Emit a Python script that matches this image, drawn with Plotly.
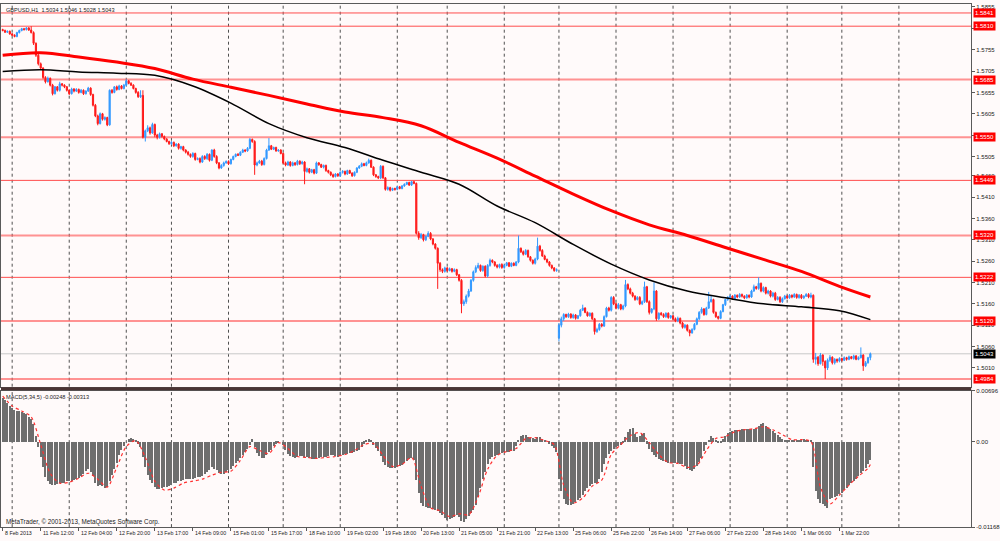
import plotly.graph_objects as go

# GBPUSD H1 candles, price in pips above 1.5000 (1 pip = 0.0001)
opens = [
    802, 800, 796, 798, 792, 789, 786, 795, 800, 804, 802, 806, 801, 795, 770, 742,
    722, 712, 690, 680, 688, 672, 652, 668, 660, 675, 672, 668, 660, 652, 663, 658,
    662, 655, 660, 652, 658, 665, 650, 625, 600, 582, 605, 592, 596, 579, 660, 655,
    668, 662, 670, 664, 672, 682, 676, 672, 664, 655, 645, 648, 550, 565, 572, 560,
    580, 555, 550, 558, 552, 546, 540, 535, 538, 530, 534, 524, 528, 520, 515, 510,
    505, 512, 498, 500, 492, 505, 500, 510, 496, 520, 505, 490, 478, 484, 490, 493,
    488, 498, 505, 510, 508, 515, 520, 518, 524, 545, 540, 485, 490, 494, 486, 500,
    520, 530, 522, 526, 518, 520, 512, 490, 485, 492, 484, 490, 486, 494, 488, 492,
    470, 476, 468, 474, 466, 490, 486, 480, 484, 472, 468, 462, 458, 464, 460, 468,
    470, 464, 472, 466, 460, 468, 478, 482, 488, 484, 490, 496, 480, 462, 458, 455,
    482, 455, 428, 432, 426, 430, 428, 434, 430, 436, 440, 444, 438, 446, 442, 325,
    315, 322, 310, 318, 325, 312, 300, 290, 255, 240, 236, 244, 238, 242, 236, 240,
    228, 215, 160, 165, 178, 190, 215, 235, 245, 250, 238, 248, 225, 250, 262, 258,
    250, 246, 252, 245, 250, 256, 248, 255, 250, 258, 290, 282, 276, 285, 270, 262,
    255, 265, 295, 285, 272, 264, 258, 250, 244, 238, 80, 110, 125, 135, 130, 136,
    128, 134, 126, 132, 145, 150, 140, 132, 138, 125, 95, 100, 112, 108, 130, 150,
    145, 175, 160, 150, 158, 148, 155, 205, 195, 185, 178, 170, 175, 160, 165, 200,
    165, 140, 148, 190, 125, 138, 135, 130, 138, 128, 132, 125, 120, 126, 115, 105,
    110, 98, 92, 100, 112, 125, 140, 148, 135, 150, 165, 170, 140, 130, 126, 142,
    158, 170, 175, 178, 172, 180, 176, 182, 178, 174, 180, 176, 190, 200, 196, 208,
    190, 198, 185, 190, 178, 185, 170, 175, 165, 172, 178, 174, 180, 176, 182, 175,
    180, 174, 178, 182, 176, 180, 30, 35, 20, 40, 25, 10, 28, 35, 22, 30,
    26, 32, 28, 34, 30, 36, 32, 38, 30, 34, 40, 15, 22, 34,
]
highs = [
    804, 802, 800, 800, 794, 791, 797, 802, 806, 806, 808, 808, 810, 798, 772, 745,
    725, 714, 693, 692, 690, 675, 670, 670, 680, 677, 674, 670, 662, 666, 665, 665,
    664, 663, 662, 660, 668, 667, 652, 628, 603, 608, 607, 599, 598, 662, 663, 670,
    671, 673, 672, 675, 686, 684, 679, 674, 666, 658, 660, 660, 568, 578, 575, 584,
    582, 558, 561, 560, 554, 548, 542, 541, 540, 536, 536, 530, 530, 522, 518, 512,
    515, 514, 503, 503, 508, 508, 513, 512, 522, 523, 508, 492, 487, 493, 496, 496,
    500, 507, 512, 513, 517, 523, 522, 527, 548, 547, 543, 493, 497, 497, 503, 523,
    548, 532, 528, 528, 522, 522, 514, 493, 495, 494, 493, 492, 497, 496, 495, 494,
    479, 478, 476, 476, 493, 492, 488, 486, 486, 474, 470, 465, 466, 466, 470, 473,
    472, 474, 474, 468, 470, 480, 485, 491, 490, 493, 500, 498, 482, 464, 460, 485,
    484, 457, 435, 434, 432, 432, 436, 436, 438, 442, 446, 446, 448, 448, 444, 330,
    326, 324, 320, 330, 328, 314, 302, 292, 258, 243, 247, 246, 245, 244, 243, 242,
    230, 218, 170, 182, 195, 218, 238, 250, 256, 252, 250, 250, 253, 266, 264, 260,
    253, 254, 255, 252, 258, 258, 257, 257, 260, 320, 292, 285, 288, 287, 272, 264,
    268, 315, 298, 288, 275, 266, 260, 252, 246, 243, 115, 130, 138, 137, 139, 138,
    137, 136, 134, 148, 158, 152, 142, 140, 140, 127, 104, 115, 115, 133, 153, 153,
    178, 178, 163, 162, 160, 158, 216, 208, 198, 188, 180, 178, 178, 168, 212, 202,
    168, 150, 210, 192, 140, 141, 138, 140, 140, 134, 134, 128, 130, 128, 118, 113,
    112, 100, 103, 115, 128, 143, 152, 150, 153, 188, 180, 172, 142, 132, 145, 160,
    172, 178, 181, 180, 183, 182, 185, 184, 180, 183, 182, 193, 205, 202, 222, 210,
    201, 200, 193, 192, 188, 188, 178, 178, 175, 181, 180, 183, 182, 185, 184, 183,
    183, 180, 185, 185, 186, 182, 45, 38, 45, 42, 28, 32, 40, 37, 33, 32,
    35, 34, 37, 36, 39, 38, 41, 40, 37, 58, 42, 26, 36, 46,
]
lows = [
    798, 794, 794, 790, 787, 784, 784, 793, 798, 800, 800, 799, 793, 766, 738, 718,
    708, 686, 676, 678, 669, 648, 650, 657, 657, 669, 665, 657, 649, 650, 655, 656,
    652, 653, 649, 650, 656, 647, 622, 597, 578, 580, 589, 589, 576, 577, 652, 653,
    659, 660, 662, 662, 670, 674, 670, 662, 652, 642, 642, 547, 540, 562, 556, 558,
    550, 545, 547, 549, 543, 538, 532, 532, 527, 528, 521, 521, 517, 512, 507, 502,
    502, 495, 496, 489, 490, 497, 497, 493, 494, 502, 487, 475, 476, 481, 488, 485,
    486, 496, 503, 506, 506, 513, 515, 516, 522, 537, 462, 482, 488, 483, 484, 498,
    518, 520, 520, 516, 516, 510, 487, 482, 483, 481, 482, 483, 484, 485, 486, 440,
    467, 465, 466, 463, 464, 483, 478, 477, 469, 465, 459, 455, 456, 457, 457, 465,
    461, 462, 464, 457, 458, 466, 476, 480, 482, 482, 488, 478, 459, 455, 452, 452,
    452, 425, 425, 423, 424, 425, 426, 428, 428, 434, 438, 436, 436, 440, 322, 310,
    312, 306, 307, 316, 309, 297, 287, 195, 235, 232, 233, 235, 236, 233, 234, 225,
    212, 138, 155, 160, 175, 188, 212, 232, 242, 235, 235, 222, 222, 247, 255, 247,
    243, 243, 242, 242, 248, 246, 246, 248, 248, 255, 279, 273, 274, 268, 259, 252,
    252, 262, 282, 270, 262, 255, 247, 241, 235, 235, 72, 105, 120, 127, 127, 125,
    125, 123, 124, 130, 143, 138, 130, 130, 122, 88, 92, 97, 105, 106, 128, 142,
    142, 157, 147, 147, 145, 145, 152, 192, 182, 175, 167, 168, 157, 157, 162, 162,
    135, 137, 145, 120, 122, 132, 127, 127, 125, 125, 122, 117, 117, 112, 102, 102,
    95, 84, 90, 98, 110, 122, 137, 132, 133, 148, 163, 137, 127, 123, 124, 140,
    155, 167, 172, 169, 170, 173, 174, 175, 171, 172, 173, 174, 188, 193, 193, 187,
    187, 182, 182, 175, 175, 167, 168, 162, 162, 170, 171, 172, 173, 174, 172, 172,
    171, 171, 176, 173, 173, 22, 18, 15, 18, 15, -16, 5, 24, 18, 18, 22,
    23, 25, 26, 27, 28, 30, 29, 28, 28, 32, 3, 12, 20, 28,
]
closes = [
    800, 796, 798, 792, 789, 786, 795, 800, 804, 802, 806, 801, 795, 770, 742, 722,
    712, 690, 680, 688, 672, 652, 668, 660, 675, 672, 668, 660, 652, 663, 658, 662,
    655, 660, 652, 658, 665, 650, 625, 600, 582, 605, 592, 596, 579, 660, 655, 668,
    662, 670, 664, 672, 682, 676, 672, 664, 655, 645, 648, 550, 565, 572, 560, 580,
    555, 550, 558, 552, 546, 540, 535, 538, 530, 534, 524, 528, 520, 515, 510, 505,
    512, 498, 500, 492, 505, 500, 510, 496, 520, 505, 490, 478, 484, 490, 493, 488,
    498, 505, 510, 508, 515, 520, 518, 524, 545, 540, 485, 490, 494, 486, 500, 520,
    530, 522, 526, 518, 520, 512, 490, 485, 492, 484, 490, 486, 494, 488, 492, 470,
    476, 468, 474, 466, 490, 486, 480, 484, 472, 468, 462, 458, 464, 460, 468, 470,
    464, 472, 466, 460, 468, 478, 482, 488, 484, 490, 496, 480, 462, 458, 455, 482,
    455, 428, 432, 426, 430, 428, 434, 430, 436, 440, 444, 438, 446, 442, 325, 315,
    322, 310, 318, 325, 312, 300, 290, 255, 240, 236, 244, 238, 242, 236, 240, 228,
    215, 160, 165, 178, 190, 215, 235, 245, 250, 238, 248, 225, 250, 262, 258, 250,
    246, 252, 245, 250, 256, 248, 255, 250, 258, 290, 282, 276, 285, 270, 262, 255,
    265, 295, 285, 272, 264, 258, 250, 244, 238, 240, 110, 125, 135, 130, 136, 128,
    134, 126, 132, 145, 150, 140, 132, 138, 125, 95, 100, 112, 108, 130, 150, 145,
    175, 160, 150, 158, 148, 155, 205, 195, 185, 178, 170, 175, 160, 165, 200, 165,
    140, 148, 190, 125, 138, 135, 130, 138, 128, 132, 125, 120, 126, 115, 105, 110,
    98, 92, 100, 112, 125, 140, 148, 135, 150, 165, 170, 140, 130, 126, 142, 158,
    170, 175, 178, 172, 180, 176, 182, 178, 174, 180, 176, 190, 200, 196, 208, 190,
    198, 185, 190, 178, 185, 170, 175, 165, 172, 178, 174, 180, 176, 182, 175, 180,
    174, 178, 182, 176, 180, 30, 35, 20, 40, 25, 10, 28, 35, 22, 30, 26,
    32, 28, 34, 30, 36, 32, 38, 30, 34, 40, 15, 22, 34, 43,
]

# moving averages, every 16 bars (pips above 1.5000)
ma_idx = [0, 16, 32, 48, 64, 80, 96, 112, 128, 144, 160, 176, 192, 208, 224,
          240, 256, 272, 288, 304, 320, 336, 352, 365]
ma_slow = [742, 748, 738, 726, 711, 686, 667, 648, 628, 609, 596, 577, 538, 501, 459,
           417, 378, 345, 320, 292, 264, 236, 201, 176]
ma_fast = [704, 708, 703, 700, 695, 670, 630, 582, 549, 526, 496, 468, 440, 389, 350,
           299, 253, 216, 190, 174, 160, 153, 144, 123]

# MACD(5,34,5) histogram in points (0.00001)
macd_hist = [
    594, 567, 527, 486, 459, 432, 419, 419, 405, 392, 378, 338, 311, 243, 81, -68,
    -203, -338, -473, -540, -581, -594, -594, -581, -567, -554, -554, -540, -540, -527, -513, -500,
    -486, -459, -432, -392, -365, -405, -459, -567, -608, -594, -608, -635, -621, -540, -446, -365,
    -284, -176, -108, -54, 0, 41, 54, 41, 14, -27, -68, -203, -338, -446, -513, -554,
    -621, -648, -648, -635, -621, -621, -608, -594, -567, -554, -540, -527, -513, -500, -500, -500,
    -500, -486, -473, -473, -459, -432, -405, -378, -338, -365, -378, -419, -432, -432, -405, -378,
    -365, -324, -284, -257, -216, -176, -135, -95, -41, 41, -68, -149, -189, -216, -216, -176,
    -135, -108, -54, -27, -14, 0, -41, -108, -162, -189, -203, -216, -203, -189, -189, -203,
    -203, -216, -230, -230, -216, -216, -203, -203, -203, -189, -176, -176, -189, -203, -189, -176,
    -162, -162, -149, -149, -135, -122, -108, -68, -27, 14, 41, 14, -41, -81, -122, -189,
    -270, -311, -338, -351, -351, -351, -338, -324, -311, -284, -257, -230, -216, -243, -513, -702,
    -837, -878, -891, -905, -905, -918, -932, -945, -972, -999, -1040, -1067, -1053, -1040, -1026, -999,
    -1026, -1080, -1094, -1053, -1013, -972, -932, -864, -756, -635, -500, -405, -297, -230, -203, -189,
    -176, -162, -149, -135, -135, -135, -122, -122, -54, 27, 81, 95, 95, 68, 54, 54,
    41, 68, 68, 41, 27, 0, -27, -54, -81, -135, -500, -675, -783, -851, -864, -864,
    -851, -824, -797, -770, -729, -675, -635, -608, -581, -567, -567, -500, -405, -297, -216, -162,
    -122, -95, -68, -54, -41, -14, 68, 135, 176, 189, 108, 68, 81, 108, 122, -27,
    -95, -135, -176, -203, -230, -243, -257, -270, -284, -284, -284, -284, -284, -297, -297, -324,
    -365, -378, -392, -365, -324, -270, -216, -122, -41, 27, 81, 54, 27, -14, -14, 41,
    81, 122, 135, 149, 162, 162, 162, 176, 176, 176, 176, 176, 176, 189, 216, 243,
    257, 216, 189, 176, 149, 122, 95, 68, 41, 27, 27, 14, 14, 14, 14, 14,
    27, 41, 27, 27, 14, -338, -675, -783, -837, -851, -878, -905, -783, -770, -756, -743,
    -716, -702, -662, -635, -594, -567, -540, -500, -459, -419, -392, -351, -297, -248,
]
# signal line, read every 4 bars
signal_idx = list(range(0, 365, 4)) + [365]
signal_vals = [
    621, 486, 419, 338, -41, -432, -567, -554,
    -500, -432, -513, -621, -351, -68, 14, -216,
    -540, -662, -635, -567, -540, -513, -459, -419,
    -405, -257, -68, -122, -162, -14, -95, -203,
    -216, -230, -216, -203, -176, -122, -41, -27,
    -189, -338, -311, -216, -608, -905, -945, -1026,
    -986, -999, -756, -378, -189, -135, -95, 41,
    54, 14, -41, -594, -837, -770, -608, -527,
    -176, -41, 81, 122, -14, -176, -284, -297,
    -351, -324, -122, 41, 68, 135, 162, 176,
    203, 162, 95, 27, 27, 0, -621, -851,
    -729, -594, -473, -365, -313,
]

# horizontal price levels drawn on the chart
level_prices = [1.5841, 1.5810, 1.5685, 1.5550, 1.5449, 1.5320, 1.5222, 1.5120, 1.4984]
level_pale = [False, False, True, True, False, True, False, True, True]
bid_price = 1.5043

price_ticks = [1.5855, 1.5805, 1.5755, 1.5705, 1.5655, 1.5605, 1.5555, 1.5505, 1.5460,
               1.5410, 1.5360, 1.5310, 1.5260, 1.5210, 1.5160, 1.5110, 1.5060, 1.5010]
macd_ticks = [0.00696, 0.0, -0.01168]
macd_tick_text = ["0.00696", "0.00", "-0.01168"]

day_starts = [4, 28, 52, 71, 95, 118, 142, 166, 187, 211, 234, 258, 282, 306, 330, 353, 377]
label_idx = list(range(0, 353, 16))
label_text = ["8 Feb 2013", "11 Feb 12:00", "12 Feb 04:00", "12 Feb 20:00", "13 Feb 17:00",
              "14 Feb 09:00", "15 Feb 01:00", "15 Feb 17:00", "18 Feb 10:00", "19 Feb 02:00",
              "19 Feb 18:00", "20 Feb 13:00", "21 Feb 05:00", "21 Feb 21:00", "22 Feb 13:00",
              "25 Feb 06:00", "25 Feb 22:00", "26 Feb 14:00", "27 Feb 06:00", "27 Feb 22:00",
              "28 Feb 14:00", "1 Mar 06:00", "1 Mar 22:00"]


def px(v):
    return 1.5 + v / 10000.0


bars = list(range(len(closes)))
BG = "#fffafa"
FRAME = "#5a5a5a"
FONT = "Liberation Sans"
TXT = "#222222"

fig = go.Figure()

fig.add_trace(go.Candlestick(
    x=bars,
    open=[px(v) for v in opens],
    high=[px(v) for v in highs],
    low=[px(v) for v in lows],
    close=[px(v) for v in closes],
    increasing=dict(line=dict(color="#3399ff", width=1), fillcolor="#3399ff"),
    decreasing=dict(line=dict(color="#ff1a1a", width=1), fillcolor="#ff1a1a"),
    whiskerwidth=0,
    showlegend=False,
    hoverinfo="skip",
    xaxis="x", yaxis="y",
))

fig.add_trace(go.Scatter(
    x=ma_idx, y=[px(v) for v in ma_slow], mode="lines",
    line=dict(color="#ff0000", width=3, shape="spline", smoothing=1.0),
    showlegend=False, hoverinfo="skip", xaxis="x", yaxis="y",
))
fig.add_trace(go.Scatter(
    x=ma_idx, y=[px(v) for v in ma_fast], mode="lines",
    line=dict(color="#000000", width=1.5, shape="spline", smoothing=1.0),
    showlegend=False, hoverinfo="skip", xaxis="x", yaxis="y",
))

# MACD panel
fig.add_trace(go.Bar(
    x=bars, y=[v / 1e5 for v in macd_hist], width=0.5,
    marker=dict(color="#6e6e6e", line=dict(width=0)),
    showlegend=False, hoverinfo="skip", xaxis="x2", yaxis="y2",
))
fig.add_trace(go.Scatter(
    x=signal_idx, y=[v / 1e5 for v in signal_vals], mode="lines",
    line=dict(color="#ff3030", width=1.2, dash="dot", shape="spline", smoothing=0.8),
    showlegend=False, hoverinfo="skip", xaxis="x2", yaxis="y2",
))

shapes = []
for d in day_starts:
    for xr, yr in (("x", "y domain"), ("x2", "y2 domain")):
        shapes.append(dict(type="line", xref=xr, yref=yr, x0=d, x1=d, y0=0, y1=1,
                           line=dict(color="#505050", width=1, dash="dot"), layer="below"))
for lv, pale in zip(level_prices, level_pale):
    shapes.append(dict(type="line", xref="x domain", yref="y", x0=0, x1=1, y0=lv, y1=lv,
                       line=dict(color="rgba(255,90,90,0.65)" if pale else "#ff4d4d",
                                 width=2 if pale else 1), layer="below"))
shapes.append(dict(type="line", xref="x domain", yref="y", x0=0, x1=1, y0=bid_price, y1=bid_price,
                   line=dict(color="#c8c8c8", width=1), layer="below"))
# separator between the two panels
shapes.append(dict(type="line", xref="paper", yref="paper", x0=0, x1=0.977,
                   y0=1 - 390 / 541, y1=1 - 390 / 541, line=dict(color="#4a3434", width=3)))

annotations = []
for lv in level_prices:
    annotations.append(dict(xref="paper", yref="y", x=0.979, y=lv, xanchor="left", yanchor="middle",
                            text=f"{lv:.4f}", showarrow=False, bgcolor="#ff0000", borderpad=1,
                            font=dict(family=FONT, size=6, color="white")))
annotations.append(dict(xref="paper", yref="y", x=0.979, y=bid_price, xanchor="left", yanchor="middle",
                        text=f"{bid_price:.4f}", showarrow=False, bgcolor="#000000", borderpad=1,
                        font=dict(family=FONT, size=6, color="white")))
for i, t in zip(label_idx, label_text):
    annotations.append(dict(xref="x2", yref="paper", x=i, y=1 - 531 / 541, xanchor="left",
                            yanchor="top", text=t, showarrow=False,
                            font=dict(family=FONT, size=5.3, color=TXT)))

title_text = (f"GBPUSD,H1  {px(opens[-1]):.4f} {px(highs[-1]):.4f} "
              f"{px(lows[-1]):.4f} {px(closes[-1]):.4f}")
annotations.append(dict(xref="paper", yref="paper", x=0.003, y=1 - 7 / 541, xanchor="left",
                        yanchor="middle", text=title_text, showarrow=False,
                        font=dict(family=FONT, size=5.6, color=TXT)))
annotations.append(dict(xref="paper", yref="paper", x=0.003, y=1 - 398 / 541, xanchor="left",
                        yanchor="middle",
                        text=f"MACD(5,34,5) {macd_hist[-1] / 1e5:.5f} {signal_vals[-1] / 1e5:.5f}",
                        showarrow=False, font=dict(family=FONT, size=5.6, color=TXT)))
annotations.append(dict(xref="paper", yref="paper", x=0.003, y=1 - 525 / 541, xanchor="left",
                        yanchor="middle", text="MetaTrader, © 2001-2013, MetaQuotes Software Corp.",
                        showarrow=False, font=dict(family=FONT, size=6.3, color=TXT)))

axis_common = dict(showline=True, mirror=True, linecolor=FRAME, linewidth=1,
                   zeroline=False, showgrid=False)

fig.update_layout(
    width=1000, height=541,
    margin=dict(l=0, r=0, t=0, b=0),
    paper_bgcolor=BG, plot_bgcolor=BG,
    hovermode=False, showlegend=False, bargap=0,
    shapes=shapes, annotations=annotations,
    xaxis=dict(domain=[0, 0.977], range=[-0.7, 407.4], anchor="y", showticklabels=False,
               ticks="", rangeslider=dict(visible=False), **axis_common),
    xaxis2=dict(domain=[0, 0.977], range=[-0.7, 407.4], anchor="y2", matches="x",
                tickvals=label_idx, ticks="outside", ticklen=3, tickcolor=FRAME,
                showticklabels=False, **axis_common),
    yaxis=dict(domain=[1 - 388 / 541, 1 - 1 / 541], range=[1.4966, 1.5862], side="right",
               anchor="x", tickvals=price_ticks, ticktext=[f"{t:.4f}" for t in price_ticks],
               ticks="outside", ticklen=3, tickcolor=FRAME,
               tickfont=dict(family=FONT, size=6, color=TXT), **axis_common),
    yaxis2=dict(domain=[1 - 530 / 541, 1 - 392 / 541], range=[-0.01168, 0.00696], side="right",
                anchor="x2", tickvals=macd_ticks, ticktext=macd_tick_text,
                ticks="outside", ticklen=3, tickcolor=FRAME,
                tickfont=dict(family=FONT, size=6, color=TXT), **axis_common),
)

# the page body has a default margin; drop it so the 1000x541 figure fills the window
fig.write_html("out.html", config={"displayModeBar": False},
               post_script="document.body.style.margin='0';"
                           "document.body.style.overflow='hidden';")
